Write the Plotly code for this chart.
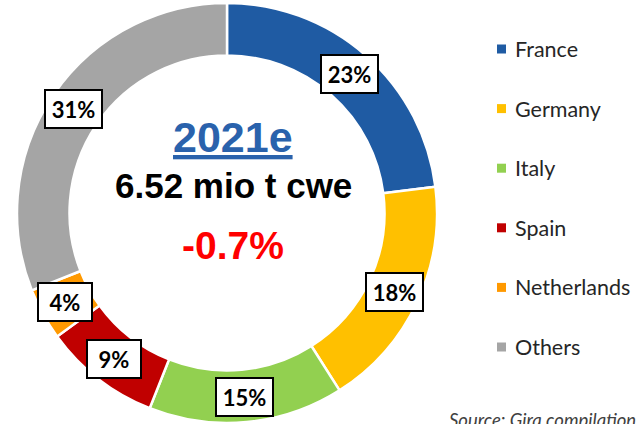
import math
import plotly.graph_objects as go

# Market shares by country, 2021 estimate
countries = ["France", "Germany", "Italy", "Spain", "Netherlands", "Others"]
shares = [23, 18, 15, 9, 4, 31]
colors = ["#1F5BA3", "#FFC000", "#92D050", "#C00000", "#FF9900", "#A5A5A5"]

total_label = "2021e"
volume_label = "6.52 mio t cwe"
change_label = "-0.7%"
source_label = "Source: Gira compilation"

W, H = 637, 424
cx, cy, R = 227, 211, 210          # pie centre (px from left / bottom) and outer radius
label_r = 185                       # radius where the percentage boxes sit

fig = go.Figure(
    go.Pie(
        labels=countries,
        values=shares,
        marker=dict(colors=colors, line=dict(color="white", width=2.5)),
        hole=0.75,
        sort=False,
        direction="clockwise",
        rotation=0,
        textinfo="none",
        hoverinfo="label+percent",
        showlegend=False,
        domain=dict(x=[(cx - R) / W, (cx + R) / W], y=[(cy - R) / H, (cy + R) / H]),
    )
)

annotations = []

# Boxed percentage labels at the middle of each slice
tot = sum(shares)
cum = 0
for name, v in zip(countries, shares):
    mid = (cum + v / 2) / tot * 2 * math.pi
    cum += v
    x = (cx + label_r * math.sin(mid)) / W
    y = (cy + label_r * math.cos(mid)) / H
    pct = round(v / tot * 100)
    annotations.append(dict(
        x=x, y=y, xref="paper", yref="paper", showarrow=False,
        text=f"<b>{pct}%</b>",
        font=dict(family="Lato", size=22, color="black"),
        width=53 if pct >= 10 else 50, height=34,
        bgcolor="white", bordercolor="black", borderwidth=2, borderpad=1,
        xanchor="center", yanchor="middle",
    ))

# Centre text
tx = 233 / W
annotations += [
    dict(x=tx, y=(H - 137) / H, xref="paper", yref="paper", showarrow=False,
         text=f"<b><u>{total_label}</u></b>",
         font=dict(family="Liberation Sans", size=43, color="#2A62AC"),
         xanchor="center", yanchor="middle"),
    dict(x=tx, y=(H - 185) / H, xref="paper", yref="paper", showarrow=False,
         text=f"<b>{volume_label}</b>",
         font=dict(family="Liberation Sans", size=35, color="black"),
         xanchor="center", yanchor="middle"),
    dict(x=tx, y=(H - 245) / H, xref="paper", yref="paper", showarrow=False,
         text=f"<b>{change_label}</b>",
         font=dict(family="Liberation Sans", size=39, color="#FF0000"),
         xanchor="center", yanchor="middle"),
]

# Legend: coloured squares with country names
shapes = []
leg_top, leg_step = 49, 59.6
for i, (name, col) in enumerate(zip(countries, colors)):
    ym = H - (leg_top + i * leg_step)
    shapes.append(dict(type="rect", xref="paper", yref="paper",
                       x0=497 / W, x1=506 / W, y0=(ym - 4.5) / H, y1=(ym + 4.5) / H,
                       fillcolor=col, line=dict(width=0)))
    annotations.append(dict(x=513 / W, y=ym / H, xref="paper", yref="paper",
                            showarrow=False, text=name,
                            font=dict(family="Lato", size=21.5, color="#262626"),
                            xanchor="left", yanchor="middle"))

# Source note in the bottom-right corner, running off the page edge
annotations.append(dict(x=447 / W, y=(H - 407) / H, xref="paper", yref="paper",
                        showarrow=False, text=f"<i>{source_label}</i>",
                        font=dict(family="Lato", size=18.5, color="#404040"),
                        xanchor="left", yanchor="top"))

fig.update_layout(
    width=W, height=H,
    margin=dict(l=0, r=0, t=0, b=0),
    paper_bgcolor="white",
    plot_bgcolor="white",
    annotations=annotations,
    shapes=shapes,
)

fig.write_html("out.html")
